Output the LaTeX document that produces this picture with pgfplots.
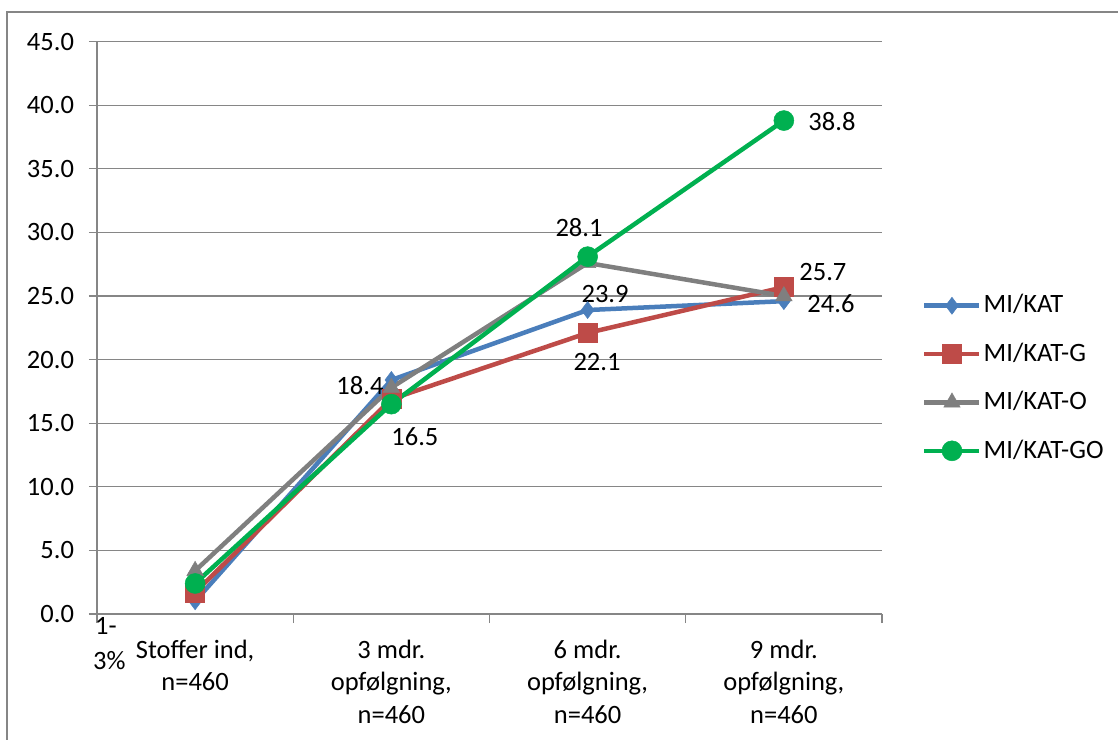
\documentclass[border=0pt]{standalone}
\usepackage{pgfplots}
\pgfplotsset{compat=1.18}
\usepackage{fontspec}
\setmainfont{Carlito}
\definecolor{cblue}{HTML}{4A7EBB}
\definecolor{cred}{HTML}{BE4B48}
\definecolor{cgray}{HTML}{7F7F7F}
\definecolor{cgreen}{HTML}{00B050}
\definecolor{cgrid}{HTML}{868686}
\newcommand{\cfont}{\fontsize{26.5bp}{32.5bp}\selectfont}
\begin{document}
\cfont
\begin{tikzpicture}
\useasboundingbox (0,0) rectangle (1118bp,740bp);
\draw[cgrid, line width=1.6bp] (7bp,-20bp) -- (7bp,728bp) -- (1140bp,728bp);
\begin{axis}[
  at={(97bp,126bp)}, anchor=south west,
  scale only axis, width=785bp, height=572.3bp,
  xmin=-0.5, xmax=3.5, ymin=0, ymax=45,
  axis x line=bottom, axis y line=left,
  axis line style={-, cgrid, line width=1.2bp},
  ytick={0,5,...,45},
  ymajorgrids, grid style={cgrid, line width=1.2bp},
  /pgf/number format/fixed,
  /pgf/number format/fixed zerofill,
  /pgf/number format/precision=1,
  /pgf/number format/assume math mode=true,
  tick align=outside,
  major tick length=8bp, minor tick length=9bp,
  tick style={cgrid, line width=1.2bp},
  major x tick style={draw=none},
  xtick={0,1,2,3},
  minor xtick={-0.5,0.5,1.5,2.5,3.5},
  xticklabels={{Stoffer ind,\\n=460},{3 mdr.\\opfølgning,\\n=460},{6 mdr.\\opfølgning,\\n=460},{9 mdr.\\opfølgning,\\n=460}},
  xticklabel style={align=center, font=\cfont, yshift=-9bp},
  yticklabel style={font=\cfont, xshift=-6bp},
  legend style={at={(axis description cs:1.051,0.562)}, anchor=north west,
    draw=none, fill=none, font=\cfont,
    row sep=22bp, inner sep=0pt},
  legend cell align=left,
  legend image code/.code={\draw[mark repeat=2,mark phase=2,#1] plot coordinates {(0bp,0bp) (27.5bp,0bp) (55bp,0bp)};},
  every axis plot/.append style={line width=4.5bp},
  clip=false,
]
\addplot[cblue, mark=diamond*, mark size=8.5bp, mark options={solid, line width=0.5bp}] coordinates {(0,1.0) (1,18.4) (2,23.9) (3,24.6)};
\addlegendentry{MI/KAT}
\addplot[cred, mark=square*, mark size=9.5bp, mark options={solid, line width=0.5bp}] coordinates {(0,1.7) (1,16.9) (2,22.1) (3,25.7)};
\addlegendentry{MI/KAT-G}
\addplot[cgray, mark=triangle*, mark size=9.5bp, mark options={solid, line width=0.5bp}] coordinates {(0,3.4) (1,17.8) (2,27.6) (3,25.0)};
\addlegendentry{MI/KAT-O}
\addplot[cgreen, mark=*, mark size=10bp, mark options={solid, line width=0.5bp}] coordinates {(0,2.4) (1,16.5) (2,28.1) (3,38.8)};
\addlegendentry{MI/KAT-GO}
\node[inner sep=0pt] at (axis cs:3.245,38.76) {38.8};
\node[inner sep=0pt] at (axis cs:1.956,30.35) {28.1};
\node[inner sep=0pt] at (axis cs:3.199,26.89) {25.7};
\node[inner sep=0pt] at (axis cs:3.240,24.37) {24.6};
\node[inner sep=0pt] at (axis cs:2.089,25.16) {23.9};
\node[inner sep=0pt] at (axis cs:2.048,19.81) {22.1};
\node[inner sep=0pt] at (axis cs:0.840,18.0) {18.4};
\node[inner sep=0pt] at (axis cs:1.120,13.92) {16.5};
\end{axis}
\node[anchor=base west, inner sep=0pt] at (95bp,105bp) {1-};
\node[anchor=base west, inner sep=0pt] at (93bp,70bp) {3\%};
\end{tikzpicture}
\end{document}
